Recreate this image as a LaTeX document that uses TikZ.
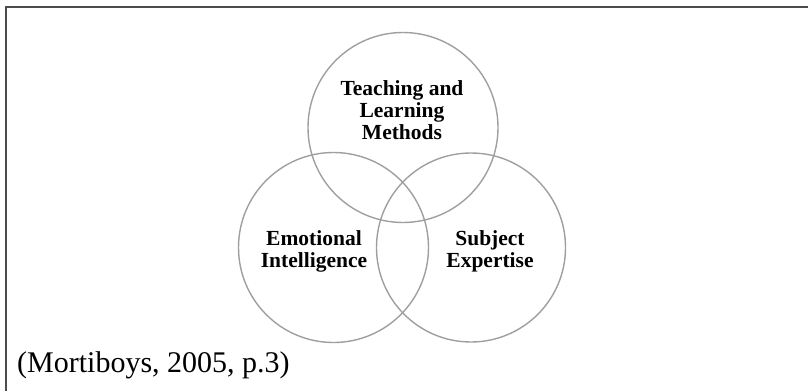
\documentclass[tikz,border=0pt]{standalone}
\usepackage{fontspec}
\setmainfont{Liberation Serif}
\begin{document}
\begin{tikzpicture}[x=1pt,y=-1pt,
  ring/.style={draw=gray!75,line width=1.4pt},
  lbl/.style={align=center,font=\fontsize{21.5}{22}\selectfont\bfseries,inner sep=0pt},
  frameline/.style={draw=black!70,line width=2pt}]
\useasboundingbox (0,0) rectangle (808,391);
\coordinate (tl) at (6,6.5);
\coordinate (tr) at (808,6.5);
\coordinate (bl) at (6,391);
\draw[frameline] (tr) -- (tl) -- (bl);
\node[ring,circle,minimum size=190pt,inner sep=0pt] (top) at (403,127.5) {};
\node[ring,circle,minimum size=190pt,inner sep=0pt] (left) at (333.5,247.5) {};
\node[ring,circle,minimum size=189pt,inner sep=0pt] (right) at (471,247.5) {};
\node[lbl] (tlm) at (402,110) {Teaching and\\Learning\\Methods};
\node[lbl] (ei) at (314,251.5) {Emotional\\Intelligence};
\node[lbl] (se) at (490,251.5) {Subject\\Expertise};
\node[anchor=west,inner sep=0pt,font=\fontsize{30}{32}\selectfont] (cite) at (17,365) {(Mortiboys, 2005, p.3)};
\end{tikzpicture}
\end{document}
